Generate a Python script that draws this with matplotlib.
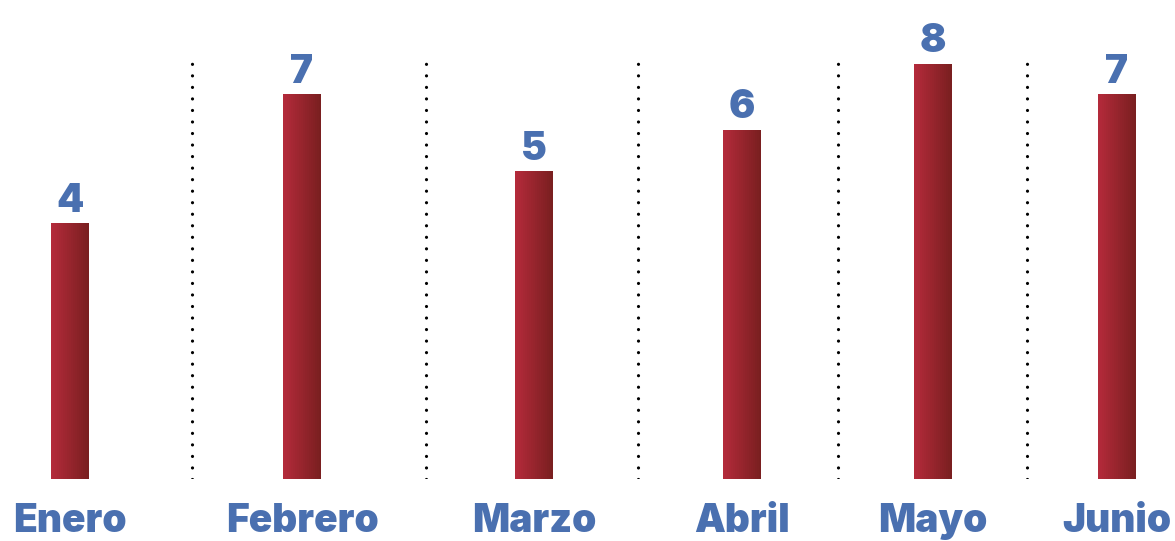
import numpy as np
import matplotlib
matplotlib.use("Agg")
import matplotlib.pyplot as plt
from matplotlib.colors import to_rgb
from matplotlib.transforms import blended_transform_factory

meses = ["Enero", "Febrero", "Marzo", "Abril", "Mayo", "Junio"]
valores = [4, 7, 5, 6, 8, 7]

# layout (pixel-ish x positions of the bar centers, separators in between)
x_pos = [70, 302, 534, 742, 933, 1117]
sep_pos = [192, 426, 638, 838, 1027]
bar_w = 38

azul = "#4a70b0"
rojo_izq = to_rgb("#b32a3a")
rojo_der = to_rgb("#7a1f20")
fuente = "Inter"

fig = plt.figure(figsize=(11.75, 5.41), dpi=100)
ax = fig.add_axes([0, 1 - 479 / 541, 1, 479 / 541])
ax.set_yscale("log")
ax.set_xlim(0, 1175)
ax.set_ylim(1.31, 10.55)

# bars with horizontal gradient, built from thin slices
n = 19
for x, v in zip(x_pos, valores):
    for i in range(n):
        t = i / (n - 1)
        c = tuple(rojo_izq[k] * (1 - t) + rojo_der[k] * t for k in range(3))
        ax.bar(x - bar_w / 2 + (i + 0.5) * bar_w / n, v, width=bar_w / n,
               color=c, linewidth=0, antialiased=False)
    ax.annotate(str(v), (x, v), xytext=(0, 8), textcoords="offset points",
                ha="center", va="baseline", fontsize=28, fontweight="black",
                family=fuente, color=azul)

for s in sep_pos:
    ax.axvline(s, ymin=0, ymax=0.875, color="black", lw=2.3,
               linestyle=(0, (0.01, 3.6)), dash_capstyle="round")

trans = blended_transform_factory(ax.transData, fig.transFigure)
for x, m in zip(x_pos, meses):
    ax.text(x, 1 - 532 / 541, m, transform=trans, ha="center", va="baseline",
            fontsize=28, fontweight="black", family=fuente, color=azul)

ax.axis("off")
fig.savefig("out.png", dpi=100)
